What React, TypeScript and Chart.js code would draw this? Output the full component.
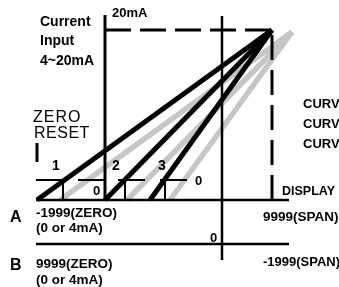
import React, { useEffect, useRef } from "react";
import { Chart, registerables } from "chart.js";

Chart.register(...registerables);

// ---- Diagram data (diagram units; y grows downward) ----
const curveNames = ["1", "2", "3"];
const curveZeroX = [37, 105, 150]; // black curves meet display line A
const curveZeroY = [200, 200, 200];
const spanX = [272, 272, 272]; // 20mA / SPAN corner
const spanY = [30, 30, 30];
const shiftedZeroX = [60, 127, 170]; // gray shifted curves
const shiftedZeroY = [200, 200, 200];
const shiftedSpanX = [292, 292, 292];
const shiftedSpanY = [32, 32, 32];

const displayLineY = [200, 244]; // lines A and B
const displayLineFromX = [36, 36];
const displayLineToX = [289, 289];

const inputAxisX = 105;
const inputAxisTop = 15;
const zeroAxisX = 222;
const zeroAxisTop = 16;
const zeroAxisBottom = 260;

const resetLevelY = 180;
const resetSegFrom = [36, 78, 118, 160];
const resetSegTo = [67, 105, 145, 187];
const resetTickX = [63, 125, 165];
const zeroResetMarkX = 37;
const zeroResetMarkTop = 143;
const zeroResetMarkBottom = 162;

type Lbl = { t: string; x: number; y: number; f: string; ls?: number };

const BOLD = "'Liberation Sans', Arial, sans-serif";
const labels: Lbl[] = [
  { t: "Current", x: 40, y: 26, f: `bold 14px ${BOLD}` },
  { t: "Input", x: 40, y: 45, f: `bold 14px ${BOLD}` },
  { t: "4~20mA", x: 40, y: 65, f: `bold 14px ${BOLD}` },
  { t: "20mA", x: 112, y: 17, f: `bold 13px ${BOLD}` },
  { t: "ZERO", x: 33, y: 122, f: `16px ${BOLD}`, ls: 1 },
  { t: "RESET", x: 34, y: 138, f: `16px ${BOLD}`, ls: 0.5 },
  { t: curveNames[0], x: 52, y: 170, f: `bold 14px ${BOLD}` },
  { t: curveNames[1], x: 112, y: 170, f: `bold 14px ${BOLD}` },
  { t: curveNames[2], x: 158, y: 170, f: `bold 14px ${BOLD}` },
  { t: "0", x: 93, y: 195, f: `bold 13px ${BOLD}` },
  { t: "0", x: 195, y: 185, f: `bold 13px ${BOLD}` },
  { t: "CURVE 1", x: 303, y: 108, f: `bold 13px ${BOLD}` },
  { t: "CURVE 2", x: 303, y: 128, f: `bold 13px ${BOLD}` },
  { t: "CURVE 3", x: 303, y: 148, f: `bold 13px ${BOLD}` },
  { t: "DISPLAY", x: 282, y: 195, f: `bold 12.5px ${BOLD}` },
  { t: "A", x: 10, y: 222, f: `bold 16px ${BOLD}` },
  { t: "-1999(ZERO)", x: 36, y: 217, f: `bold 13.5px ${BOLD}` },
  { t: "(0 or 4mA)", x: 36, y: 232, f: `bold 13.5px ${BOLD}` },
  { t: "9999(SPAN)", x: 263, y: 221, f: `bold 13.5px ${BOLD}` },
  { t: "0", x: 210, y: 242, f: `bold 13px ${BOLD}` },
  { t: "B", x: 10, y: 270, f: `bold 16px ${BOLD}` },
  { t: "9999(ZERO)", x: 36, y: 268, f: `bold 13.5px ${BOLD}` },
  { t: "(0 or 4mA)", x: 36, y: 284, f: `bold 13.5px ${BOLD}` },
  { t: "-1999(SPAN)", x: 263, y: 266, f: `bold 13px ${BOLD}` },
];

const GRAY = "#c6c6c6";

function seg(
  pts: { x: number; y: number }[],
  color: string,
  width: number,
  order: number,
  dash: number[] = []
) {
  return {
    data: pts,
    showLine: true,
    borderColor: color,
    borderWidth: width,
    borderDash: dash,
    pointRadius: 0,
    pointHoverRadius: 0,
    fill: false,
    tension: 0,
    order,
  };
}

const textPlugin = {
  id: "diagramText",
  afterDatasetsDraw(chart: any) {
    const ctx = chart.ctx;
    const xs = chart.scales.x;
    const ys = chart.scales.y;
    ctx.save();
    ctx.fillStyle = "#000";
    ctx.textAlign = "left";
    ctx.textBaseline = "alphabetic";
    for (const l of labels) {
      ctx.font = l.f;
      (ctx as any).letterSpacing = `${l.ls || 0}px`;
      ctx.fillText(l.t, xs.getPixelForValue(l.x), ys.getPixelForValue(l.y));
    }
    ctx.restore();
  },
};

export default function App() {
  const ref = useRef<HTMLCanvasElement | null>(null);
  useEffect(() => {
    if (!ref.current) return;
    const datasets: any[] = [];
    // black curves (top)
    curveZeroX.forEach((x, i) => {
      datasets.push(
        seg(
          [
            { x, y: curveZeroY[i] },
            { x: spanX[i], y: spanY[i] },
          ],
          "#000",
          5,
          1
        )
      );
    });
    // gray shifted curves
    shiftedZeroX.forEach((x, i) => {
      datasets.push(
        seg(
          [
            { x, y: shiftedZeroY[i] },
            { x: shiftedSpanX[i], y: shiftedSpanY[i] },
          ],
          GRAY,
          5.5,
          3
        )
      );
    });
    // display lines A and B
    displayLineY.forEach((y, i) => {
      datasets.push(
        seg(
          [
            { x: displayLineFromX[i], y },
            { x: displayLineToX[i], y },
          ],
          "#000",
          2.5,
          2
        )
      );
    });
    // input axis
    datasets.push(
      seg(
        [
          { x: inputAxisX, y: inputAxisTop },
          { x: inputAxisX, y: displayLineY[0] },
        ],
        "#000",
        3,
        2
      )
    );
    // display zero axis
    datasets.push(
      seg(
        [
          { x: zeroAxisX, y: zeroAxisTop },
          { x: zeroAxisX, y: zeroAxisBottom },
        ],
        "#000",
        2.5,
        2
      )
    );
    // 20mA dashed level
    datasets.push(
      seg(
        [
          { x: inputAxisX, y: spanY[0] },
          { x: spanX[0], y: spanY[0] },
        ],
        "#000",
        3,
        2,
        [26, 9]
      )
    );
    // SPAN dashed vertical (drawn from bottom)
    datasets.push(
      seg(
        [
          { x: spanX[0], y: displayLineY[0] },
          { x: spanX[0], y: spanY[0] },
        ],
        "#000",
        3,
        2,
        [25, 10]
      )
    );
    // zero-reset level segments
    resetSegFrom.forEach((x, i) => {
      datasets.push(
        seg(
          [
            { x, y: resetLevelY },
            { x: resetSegTo[i], y: resetLevelY },
          ],
          "#000",
          2,
          2
        )
      );
    });
    resetTickX.forEach((x) => {
      datasets.push(
        seg(
          [
            { x, y: resetLevelY },
            { x, y: displayLineY[0] },
          ],
          "#000",
          2,
          2
        )
      );
    });
    datasets.push(
      seg(
        [
          { x: zeroResetMarkX, y: zeroResetMarkTop },
          { x: zeroResetMarkX, y: zeroResetMarkBottom },
        ],
        "#000",
        3,
        2
      )
    );

    const chart = new Chart(ref.current, {
      type: "scatter",
      data: { datasets },
      options: {
        animation: false,
        responsive: false,
        devicePixelRatio: 1,
        layout: { padding: 0 },
        plugins: {
          legend: { display: false },
          tooltip: { enabled: false },
        },
        events: [],
        scales: {
          x: { type: "linear", min: 0, max: 339, display: false },
          y: { type: "linear", min: 0, max: 287, reverse: true, display: false },
        },
      },
      plugins: [textPlugin],
    });
    return () => chart.destroy();
  }, []);

  return (
    <div style={{ position: "fixed", left: 0, top: 0, width: 339, height: 287, background: "#fff" }}>
      <canvas ref={ref} width={339} height={287} style={{ display: "block" }} />
    </div>
  );
}
